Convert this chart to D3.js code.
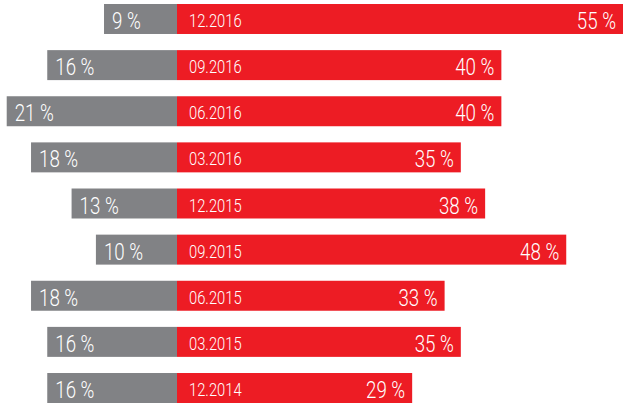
<!DOCTYPE html>
<html>
<head>
<meta charset="utf-8">
<script src="https://cdn.jsdelivr.net/npm/d3@7"></script>
<style>
  body { margin: 0; background: #fff; }
  svg text { fill: #fff; font-family: Roboto, "DejaVu Sans", sans-serif; font-weight: 300; }
  .pct { font-size: 24px; }
  .date { font-size: 18px; }
</style>
</head>
<body>
<svg id="chart"></svg>
<script>
const periods = ['12.2016', '09.2016', '06.2016', '03.2016', '12.2015', '09.2015', '06.2015', '03.2015', '12.2014'];
const greyValues = [9, 16, 21, 18, 13, 10, 18, 16, 16];
const redValues = [55, 40, 40, 35, 38, 48, 33, 35, 29];

const width = 623, height = 403;
const center = 177;

const svg = d3.select('#chart')
    .attr('width', width)
    .attr('height', height);

const xScale = d3.scaleLinear()
    .domain([0, 55])
    .range([0, 446]);

const yScale = d3.scaleBand()
    .domain(periods)
    .range([4, 403])
    .paddingInner(0.35)
    .paddingOuter(0);

const rows = periods.map((p, i) => ({ period: p, grey: greyValues[i], red: redValues[i] }));

const g = svg.selectAll('.row')
    .data(rows)
  .join('g')
    .attr('class', 'row')
    .attr('transform', d => `translate(0,${yScale(d.period)})`);

// grey bars to the left
g.append('rect')
    .attr('x', d => center - xScale(d.grey))
    .attr('width', d => xScale(d.grey))
    .attr('height', yScale.bandwidth())
    .attr('fill', '#818285');

// red bars to the right
g.append('rect')
    .attr('x', center)
    .attr('width', d => xScale(d.red))
    .attr('height', yScale.bandwidth())
    .attr('fill', '#ed1c24');

// condensed look: squeeze text horizontally
g.append('text')
    .attr('class', 'pct')
    .attr('transform', d => `translate(${center - xScale(d.grey) + 8},25) scale(0.78,1)`)
    .text(d => d.grey + ' %');

g.append('text')
    .attr('class', 'pct')
    .attr('transform', d => `translate(${center + xScale(d.red) - 7},25) scale(0.78,1)`)
    .attr('text-anchor', 'end')
    .text(d => d.red + ' %');

g.append('text')
    .attr('class', 'date')
    .attr('transform', `translate(${center + 12},23) scale(0.82,1)`)
    .text(d => d.period);
</script>
</body>
</html>
